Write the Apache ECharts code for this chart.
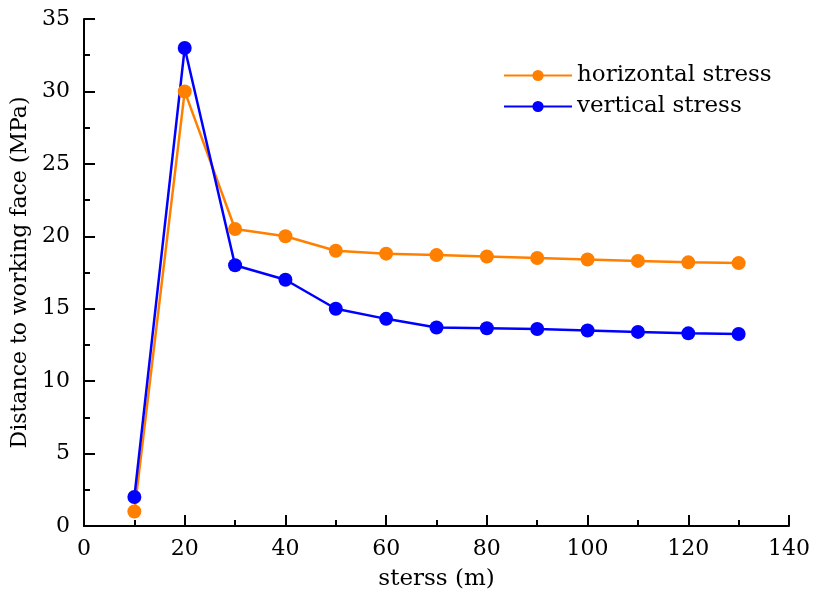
<!DOCTYPE html>
<html>
<head>
<meta charset="utf-8">
<script src="https://cdn.jsdelivr.net/npm/echarts@6/dist/echarts.min.js"></script>
<style>
html, body { margin: 0; padding: 0; background: #fff; }
#main { width: 818px; height: 592px; }
</style>
</head>
<body>
<div id="main"></div>
<script>
var xData = [10, 20, 30, 40, 50, 60, 70, 80, 90, 100, 110, 120, 130];
var horizontalStress = [1, 30, 20.5, 20, 19, 18.8, 18.7, 18.6, 18.5, 18.4, 18.3, 18.2, 18.15];
var verticalStress = [2, 33, 18, 17, 15, 14.3, 13.7, 13.65, 13.6, 13.5, 13.4, 13.3, 13.25];

function pairs(xs, ys) {
	var out = [];
	for (var i = 0; i < xs.length; i++) {
		out.push([xs[i], ys[i]]);
	}
	return out;
}

var font = 'DejaVu Serif';
var myChart = echarts.init(document.getElementById('main'));

var option = {
	animation : false,
	backgroundColor : '#fff',
	textStyle : { fontFamily : font },
	legend : {
		orient : 'vertical',
		left : 498,
		top : 59,
		itemWidth : 68,
		itemHeight : 14,
		itemGap : 8,
		textStyle : { fontFamily : font, fontSize : 23, color : '#000' },
		data : ['horizontal stress', 'vertical stress']
	},
	grid : {
		left : 84,
		right : 29,
		top : 19,
		bottom : 66,
		containLabel : false,
		outerBoundsMode : 'none'
	},
	xAxis : {
		type : 'value',
		min : 0,
		max : 140,
		interval : 20,
		name : 'sterss (m)',
		nameLocation : 'middle',
		nameGap : 42,
		nameTextStyle : { fontFamily : font, fontSize : 23, color : '#000' },
		axisLine : { show : true, lineStyle : { color : '#000', width : 2 } },
		axisTick : { show : true, inside : true, length : 11, lineStyle : { color : '#000', width : 2 } },
		minorTick : { show : true, splitNumber : 2, length : 6, lineStyle : { color : '#000', width : 2 } },
		axisLabel : { fontFamily : font, fontSize : 22, color : '#000', margin : 12 },
		splitLine : { show : false }
	},
	yAxis : {
		type : 'value',
		min : 0,
		max : 35,
		interval : 5,
		name : 'Distance to working face (MPa)',
		nameLocation : 'middle',
		nameGap : 52,
		nameTextStyle : { fontFamily : font, fontSize : 22, color : '#000' },
		axisLine : { show : true, lineStyle : { color : '#000', width : 2 } },
		axisTick : { show : true, inside : true, length : 11, lineStyle : { color : '#000', width : 2 } },
		minorTick : { show : true, splitNumber : 2, length : 6, lineStyle : { color : '#000', width : 2 } },
		axisLabel : { fontFamily : font, fontSize : 22, color : '#000', margin : 14 },
		splitLine : { show : false }
	},
	series : [ {
		name : 'horizontal stress',
		type : 'line',
		data : pairs(xData, horizontalStress),
		symbol : 'circle',
		symbolSize : 14,
		lineStyle : { color : '#FF8000', width : 2.5 },
		itemStyle : { color : '#FF8000' }
	}, {
		name : 'vertical stress',
		type : 'line',
		data : pairs(xData, verticalStress),
		symbol : 'circle',
		symbolSize : 14,
		lineStyle : { color : '#0000FF', width : 2.5 },
		itemStyle : { color : '#0000FF' }
	} ]
};
myChart.setOption(option);
</script>
</body>
</html>
